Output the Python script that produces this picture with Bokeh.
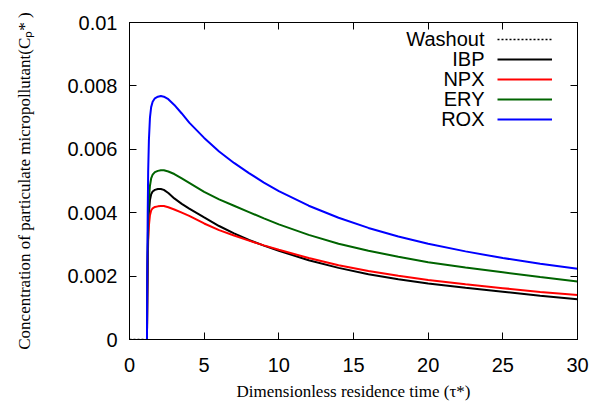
from bokeh.plotting import figure
from bokeh.models import (LinearAxis, FixedTicker, CustomJSTickFormatter, Legend,
                          LegendItem, Label, Range1d)
from bokeh.core.properties import value
from bokeh.embed import file_html
from bokeh.resources import INLINE

# ---- data ----
washout_tau = [0.0, 0.95]
washout_c = [0.0, 0.0]

tau = [1.17, 1.19, 1.22, 1.25, 1.3, 1.37, 1.45, 1.55, 1.7, 1.9, 2.1, 2.3, 2.6, 3.0, 3.5,
       4.0, 5.0, 6.0, 7.0, 8.0, 9.0, 10.0, 12.0, 14.0, 16.0, 18.0, 20.0, 22.5, 25.0, 27.5, 30.0]

ibp = [0.0, 0.0013, 0.0026, 0.0034, 0.0040, 0.0044, 0.00458, 0.00467, 0.00472, 0.00475, 0.00475,
       0.00472, 0.00462, 0.00445, 0.00428, 0.00413, 0.00385, 0.00358, 0.00335, 0.00314, 0.00296,
       0.00280, 0.00250, 0.00226, 0.00206, 0.00190, 0.00177, 0.00163, 0.00151, 0.00138, 0.00127]

npx = [0.0, 0.0012, 0.0024, 0.0031, 0.0036, 0.00392, 0.00407, 0.00414, 0.00418, 0.00420, 0.00421,
       0.00421, 0.00417, 0.00410, 0.00400, 0.00390, 0.00366, 0.00345, 0.00328, 0.00312, 0.00297,
       0.00283, 0.00257, 0.00234, 0.00216, 0.00201, 0.00188, 0.00174, 0.00162, 0.00150, 0.00140]

ery = [0.0, 0.0015, 0.0029, 0.0038, 0.00445, 0.00485, 0.00508, 0.00520, 0.00528, 0.00532, 0.00534,
       0.00534, 0.00530, 0.00522, 0.00508, 0.00494, 0.00466, 0.00442, 0.00422, 0.00402, 0.00382,
       0.00363, 0.00330, 0.00302, 0.00280, 0.00261, 0.00244, 0.00227, 0.00212, 0.00197, 0.00183]

rox = [0.0, 0.0020, 0.0040, 0.0053, 0.0063, 0.0070, 0.00733, 0.00750, 0.00761, 0.00766, 0.00768,
       0.00766, 0.00758, 0.00740, 0.00713, 0.00684, 0.00636, 0.00593, 0.00557, 0.00525, 0.00495,
       0.00468, 0.00422, 0.00384, 0.00352, 0.00325, 0.00302, 0.00278, 0.00257, 0.00239, 0.00223]

series_names = ["Washout", "IBP", "NPX", "ERY", "ROX"]
x_ticks = [0, 5, 10, 15, 20, 25, 30]
y_ticks = [0, 0.002, 0.004, 0.006, 0.008, 0.01]

# ---- figure ----
p = figure(width=592, height=409, output_backend="svg", toolbar_location=None,
           x_range=Range1d(0, 30), y_range=Range1d(0, 0.01),
           min_border_left=129, min_border_right=15, min_border_top=22, min_border_bottom=70)
p.grid.visible = False
p.outline_line_color = "black"
p.outline_line_width = 1
p.background_fill_color = "white"
p.border_fill_color = "white"

tick_font = "Liberation Sans"
label_font = "Liberation Serif"

for ax in (p.xaxis[0], p.yaxis[0]):
    ax.major_tick_in = 7
    ax.major_tick_out = 0
    ax.minor_tick_in = 0
    ax.minor_tick_out = 0
    ax.axis_line_color = "black"
    ax.major_tick_line_color = "black"
    ax.major_label_text_font = tick_font
    ax.major_label_text_font_size = "20px"
    ax.major_label_text_color = "black"
    ax.axis_label_text_font = label_font
    ax.axis_label_text_font_size = "17px"
    ax.axis_label_text_font_style = "normal"
    ax.axis_label_text_color = "black"

p.xaxis[0].ticker = FixedTicker(ticks=x_ticks)
p.yaxis[0].ticker = FixedTicker(ticks=y_ticks)
p.yaxis[0].formatter = CustomJSTickFormatter(
    code="return tick.toFixed(3).replace(/0+$/, '').replace(/\\.$/, '');")
p.xaxis[0].major_label_standoff = 18
p.yaxis[0].major_label_standoff = 12
p.xaxis[0].axis_label = "Dimensionless residence time (\u03c4*)"
p.yaxis[0].axis_label = "Concentration of particulate micropollutant(C\u209a* )"
p.xaxis[0].axis_label_standoff = 7
p.yaxis[0].axis_label_standoff = 30

# mirrored tick axes (top and right), no labels
for loc, ticks in (("above", x_ticks), ("right", y_ticks)):
    ax = LinearAxis(ticker=FixedTicker(ticks=ticks),
                    formatter=CustomJSTickFormatter(code="return '';"))
    ax.major_tick_in = 7
    ax.major_tick_out = 0
    ax.minor_tick_in = 0
    ax.minor_tick_out = 0
    ax.major_label_standoff = 0
    ax.major_label_text_font_size = "1px"
    ax.axis_line_color = "black"
    p.add_layout(ax, loc)

# ---- lines ----
r_wash = p.line(washout_tau, washout_c, line_color="black", line_width=1.5, line_dash="2 2")
r_ibp = p.line(tau, ibp, line_color="black", line_width=2)
r_npx = p.line(tau, npx, line_color="#ff0000", line_width=2)
r_ery = p.line(tau, ery, line_color="#006400", line_width=2)
r_rox = p.line(tau, rox, line_color="#0000ff", line_width=2)

renderers = [r_wash, r_ibp, r_npx, r_ery, r_rox]

# legend: line samples on the right, text right-aligned to their left
legend = Legend(items=[LegendItem(label=value(""), renderers=[r]) for r in renderers],
                location=(368, 210), padding=0, margin=0, spacing=0,
                glyph_width=55, glyph_height=20, label_width=0, label_height=20,
                label_standoff=0, background_fill_alpha=0, border_line_alpha=0)
legend.label_text_font_size = "1px"
p.add_layout(legend)

label_ys = [301, 281, 261, 241, 221]
for name, ly in zip(series_names, label_ys):
    p.add_layout(Label(x=355, y=ly, x_units="screen", y_units="screen", text=name,
                       text_align="right", text_baseline="middle",
                       text_font=tick_font, text_font_size="20px", text_color="black"))

open("out.html", "w").write(file_html(p, INLINE))
